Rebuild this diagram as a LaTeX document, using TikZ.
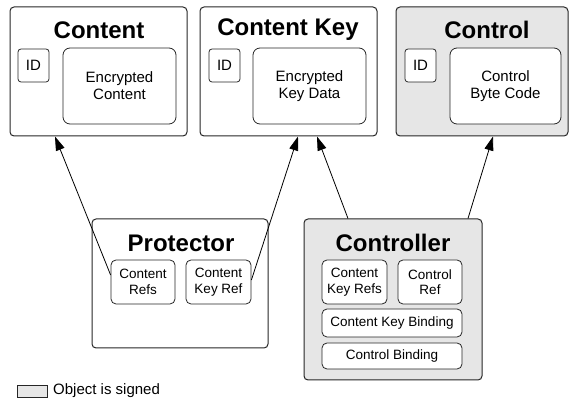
\documentclass[tikz,border=0pt]{standalone}
\usepackage{fontspec}
\setmainfont{Liberation Sans}
\usetikzlibrary{arrows.meta,calc}
\definecolor{signedgray}{HTML}{E6E6E6}
\begin{document}
\begin{tikzpicture}[x=1pt,y=-1pt,
  outerbox/.style={draw=black!85,line width=1pt,rounded corners=4pt,inner sep=0pt},
  innerbox/.style={draw=black!85,line width=0.8pt,rounded corners=7pt,fill=white,inner sep=0pt,align=center,font=\fontsize{15}{17}\selectfont},
  idbox/.style={draw=black!85,line width=0.8pt,rounded corners=3pt,fill=white,inner sep=0pt,minimum width=31pt,minimum height=33pt,font=\fontsize{15}{17}\selectfont},
  smallbox/.style={draw=black!85,line width=0.8pt,rounded corners=5pt,fill=white,inner sep=0pt,align=center,font=\fontsize{13.5}{15.5}\selectfont},
  titletext/.style={font=\fontsize{24}{28}\selectfont\bfseries,inner sep=0pt},
  arr/.style={draw=black,line width=0.8pt,-{Triangle[length=14pt,width=9pt]}},
  signed/.style={fill=signedgray}
]
\useasboundingbox (0,0) rectangle (571,403);

% top row
\node[outerbox,minimum width=177pt,minimum height=129pt] (content) at (98.5,71.5) {};
\node[titletext] (contentT) at (99,30) {Content};
\node[idbox] (contentID) at (33.5,65.5) {ID};
\node[innerbox,minimum width=113pt,minimum height=76pt] (contentE) at (119.5,86) {Encrypted\\Content};

\node[outerbox,minimum width=177pt,minimum height=129pt] (ckey) at (288.5,71.5) {};
\node[titletext] (ckeyT) at (288,30) {Content Key};
\node[idbox] (ckeyID) at (224.5,65.5) {ID};
\node[innerbox,minimum width=113pt,minimum height=76pt] (ckeyE) at (309.5,86) {Encrypted\\Key Data};

\node[outerbox,signed,minimum width=172pt,minimum height=129pt] (control) at (482,71.5) {};
\node[titletext] (controlT) at (487,30) {Control};
\node[idbox] (controlID) at (420.5,65.5) {ID};
\node[innerbox,minimum width=111pt,minimum height=76pt] (controlE) at (505.5,86) {Control\\Byte Code};

% protector
\node[outerbox,minimum width=176pt,minimum height=129pt] (prot) at (180,283.5) {};
\node[titletext] (protT) at (181,243) {Protector};
\node[smallbox,minimum width=64pt,minimum height=44pt] (cr) at (143,282) {Content\\Refs};
\node[smallbox,minimum width=65pt,minimum height=44pt] (ckr) at (218.5,282) {Content\\Key Ref};

% controller
\node[outerbox,signed,minimum width=178pt,minimum height=161pt] (ctrl) at (393,299.5) {};
\node[titletext] (ctrlT) at (393,243) {Controller};
\node[smallbox,minimum width=65pt,minimum height=44pt] (ckrs) at (354.5,282) {Content\\Key Refs};
\node[smallbox,minimum width=64pt,minimum height=44pt] (cref) at (430,282) {Control\\Ref};
\node[smallbox,minimum width=140pt,minimum height=28pt] (ckb) at (392,323) {Content Key Binding};
\node[smallbox,minimum width=140pt,minimum height=26pt] (cb) at (392,356) {Control Binding};

% arrows
\draw[arr] ([yshift=7pt]cr.west) -- ([xshift=-43.5pt]content.south);
\draw[arr] ([yshift=2pt]ckr.east) -- ([xshift=9.5pt]ckey.south);
\draw[arr] ([xshift=-45pt]ctrl.north) -- ([xshift=28.5pt]ckey.south);
\draw[arr] ([xshift=75pt]ctrl.north) -- ([xshift=11pt]control.south);

% legend
\node[draw=black!85,line width=0.8pt,signed,minimum width=30pt,minimum height=12pt,inner sep=0pt] (leg) at (32,391) {};
\node[anchor=west,inner sep=0pt,font=\fontsize{15}{17}\selectfont] (legT) at (53,391) {Object is signed};
\end{tikzpicture}
\end{document}
